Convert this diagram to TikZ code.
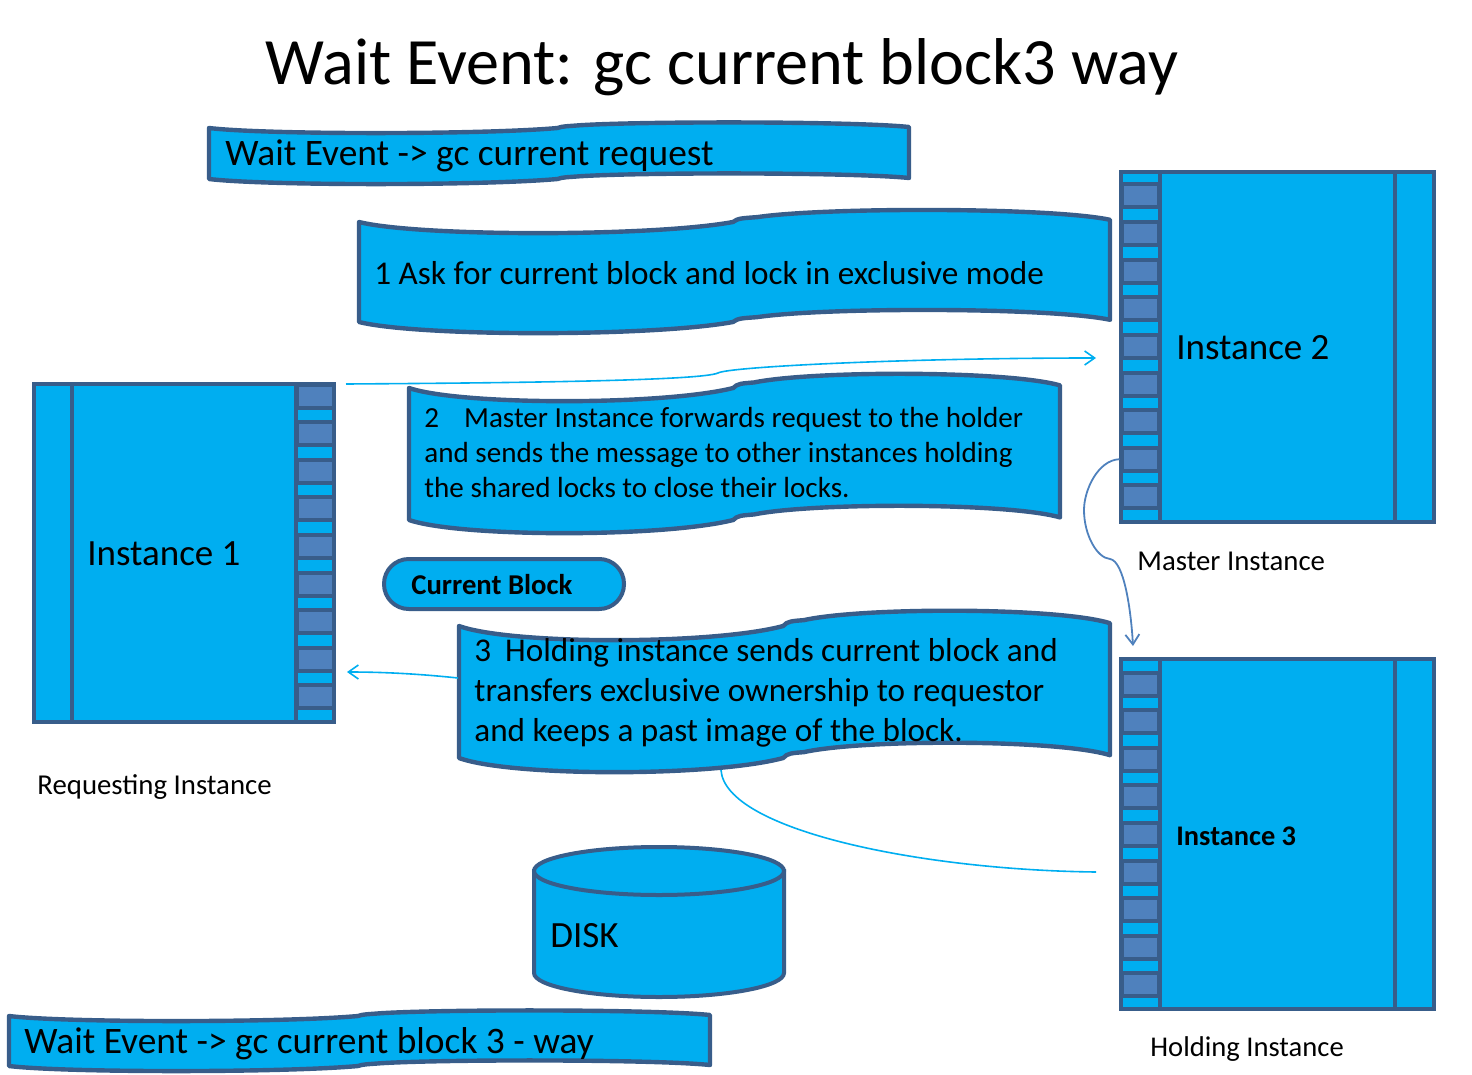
\documentclass[tikz,border=0pt]{standalone}
\usepackage{fontspec}
\setmainfont{Carlito}
\usepackage{tikz}
\usetikzlibrary{shapes.geometric, arrows.meta, positioning, calc}
\definecolor{softcyan}{RGB}{0, 174, 240}
\definecolor{softslate}{RGB}{56, 93, 138}
\definecolor{softslot}{RGB}{79, 129, 189}
\newcommand{\wavebox}[5]{%
  \pgfmathsetmacro{\wbw}{#2-#1}
  \pgfmathsetmacro{\wbm}{#1+0.5*\wbw}
  \pgfmathsetmacro{\wbs}{#5*1.35}
  \pgfmathsetmacro{\wbe}{#5*0.35}
  \pgfmathsetmacro{\wbr}{#5*0.2}
  \draw[wave]
    (#1,#3) .. controls (#1+0.08*\wbw,#3+\wbs) and (\wbm-0.11*\wbw,#3+\wbs) .. (\wbm-0.002*\wbw,#3)
    .. controls (\wbm+0.004*\wbw,#3-\wbe) and (\wbm+0.012*\wbw,#3-\wbe) .. (\wbm+0.03*\wbw,#3-\wbe-1)
    .. controls (\wbm+0.12*\wbw,#3-\wbs) and (#2-0.08*\wbw,#3-\wbs) .. (#2,#3-\wbr)
    -- (#2,#4-\wbr)
    .. controls (#2-0.08*\wbw,#4-\wbs) and (\wbm+0.12*\wbw,#4-\wbs) .. (\wbm+0.03*\wbw,#4-\wbe-1)
    .. controls (\wbm+0.012*\wbw,#4-\wbe) and (\wbm+0.004*\wbw,#4-\wbe) .. (\wbm-0.002*\wbw,#4)
    .. controls (\wbm-0.11*\wbw,#4+\wbs) and (#1+0.08*\wbw,#4+\wbs) .. (#1,#4)
    -- cycle;
}
\begin{document}
\begin{tikzpicture}[
    x=0.5pt, y=-0.5pt,
    wave/.style={draw=softslate, fill=softcyan, line width=2.2pt, line join=round},
    inst/.style={draw=softslate, fill=softcyan, line width=2pt, minimum width=150pt,
                 inner sep=0pt, outer sep=0pt},
    slot/.style={draw=softslate, fill=softslot, line width=2pt, minimum width=18.5pt,
                 minimum height=11.5pt, inner sep=0pt},
    bar/.style={draw=softslate, line width=2pt},
    txt/.style={anchor=west, inner sep=0pt, align=left},
    link/.style={softcyan, line width=0.8pt, -{Straight Barb[length=5pt,width=7pt]}},
    hop/.style={softslot, line width=0.9pt, -{Straight Barb[length=5pt,width=7pt]}}
  ]
  \useasboundingbox (0,0) rectangle (1472,1075);

  \node[anchor=center, inner sep=0pt, font=\fontsize{33.1}{38}\selectfont] (title) at (722,67)
        {Wait Event: gc current block3 way};

  % banners
  \wavebox{209}{909}{128}{179}{5}
  \wavebox{359}{1110}{222}{322}{11}
  \wavebox{409}{1060}{388}{520}{13}
  \wavebox{459}{1110}{626}{758}{14}
  \wavebox{9}{710}{1016}{1066}{5}

  \node[txt, font=\fontsize{18.7}{22}\selectfont] (waitreq) at (225,156)
        {Wait Event -> gc current request};
  \node[txt, font=\fontsize{16.6}{20}\selectfont] (step1) at (374,273)
        {1 Ask for current block and lock in exclusive mode};
  \node[txt, font=\fontsize{14.55}{17.5}\selectfont] (step2) at (424,453)
        {2\hspace{12.5pt}Master Instance forwards request to the holder\\
         and sends the message to other instances holding\\
         the shared locks to close their locks.};
  \node[txt, font=\fontsize{16.6}{20}\selectfont] (step3) at (474,693)
        {3\hspace{7pt}Holding instance sends current block and\\
         transfers exclusive ownership to requestor\\
         and keeps a past image of the block.};
  \node[txt, font=\fontsize{18.7}{22}\selectfont] (waitblk) at (24,1044)
        {Wait Event -> gc current block 3 - way};

  % instances
  \node[inst, minimum height=169pt] (inst1) at (184,553) {};
  \node[inst, minimum width=156.5pt, minimum height=175pt] (inst2) at (1277.5,347) {};
  \node[inst, minimum width=156.5pt, minimum height=175pt] (inst3) at (1277.5,834) {};

  \draw[bar] (72,384) -- (72,722);
  \draw[bar] (296,384) -- (296,722);
  \draw[bar] (1160,172) -- (1160,522);
  \draw[bar] (1395,172) -- (1395,522);
  \draw[bar] (1160,659) -- (1160,1009);
  \draw[bar] (1395,659) -- (1395,1009);

  \foreach \i in {0,...,8}
    \node[slot] (reqslot\i) at (315,{396+\i*37.6}) {};
  \foreach \i in {0,...,8} {
    \node[slot] (mstslot\i) at (1140,{196+\i*37.6}) {};
    \node[slot] (hldslot\i) at (1140,{684+\i*37.6}) {};
  }

  \node[txt, font=\fontsize{18.5}{22}\selectfont] (inst1txt) at (87,554) {Instance 1};
  \node[txt, font=\fontsize{18.5}{22}\selectfont] (inst2txt) at (1176,348) {Instance 2};
  \node[txt, font=\bfseries\fontsize{14.2}{16}\selectfont] (inst3txt) at (1176,836) {Instance 3};

  \node[txt, font=\fontsize{14.4}{16}\selectfont] (reqtxt) at (37,787) {Requesting Instance};
  \node[txt, font=\fontsize{14.4}{16}\selectfont] (msttxt) at (1137,561) {Master Instance};
  \node[txt, font=\fontsize{14.3}{16}\selectfont] (hldtxt) at (1150,1049) {Holding Instance};

  % block and disk
  \node[draw=softslate, fill=softcyan, line width=2pt, rounded corners=12.4pt, minimum width=120pt,
        minimum height=25pt, inner sep=0pt] (block) at (504,584) {};
  \node[txt, font=\bfseries\fontsize{14.35}{17}\selectfont] (blocktxt) at (411,585) {Current Block};

  \draw[draw=softslate, fill=softcyan, line width=2pt] (534,871) -- (534,973)
    arc[start angle=180, end angle=360, x radius=62.5pt, y radius=12pt] -- (784,871) -- cycle;
  \node[ellipse, draw=softslate, fill=softcyan, line width=2pt, minimum width=125pt,
        minimum height=24pt, inner sep=0pt] (disk) at (659,871) {};
  \node[txt, font=\fontsize{18.5}{22}\selectfont] (disktxt) at (550,936) {DISK};

  % connectors
  \coordinate (reqfrom) at (346,384);
  \coordinate (reqto) at (1096,358);
  \coordinate (backfrom) at (458,678);
  \coordinate (backto) at (347,672);
  \coordinate (holdfrom) at (721,770);
  \coordinate (holdto) at (1096,872);
  \coordinate (hopto) at (1133,646);

  \draw[link] (reqfrom) .. controls (500,383) and (700,381) .. (718,373)
    .. controls (728,367) and (900,358) .. (reqto);
  \draw[link] (backfrom) .. controls (420,674) and (385,672) .. (backto);
  \draw[softcyan, line width=0.8pt] (holdfrom) .. controls (725,830) and (920,870) .. (holdto);
  \draw[hop] (mstslot7.west) .. controls (1098,460) and (1084,490) .. (1084,510)
    .. controls (1084,535) and (1097,558) .. (1110,559)
    .. controls (1124,561) and (1131,610) .. (hopto);
\end{tikzpicture}
\end{document}
